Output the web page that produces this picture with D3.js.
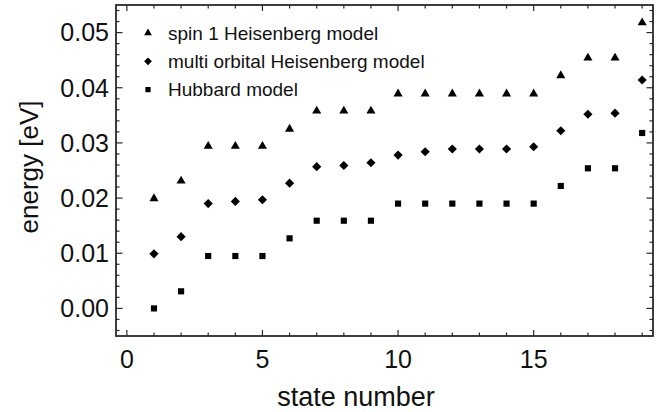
<!DOCTYPE html>
<html>
<head>
<meta charset="utf-8">
<script src="https://cdn.jsdelivr.net/npm/d3@7"></script>
<style>
  body { margin: 0; background: #fff; }
  text { font-family: "Liberation Sans", Arial, sans-serif; fill: #111; }
</style>
</head>
<body>
<div id="chart"></div>
<script>
const width = 671;
const height = 412;

// state numbers 1..19
const states = [1, 2, 3, 4, 5, 6, 7, 8, 9, 10, 11, 12, 13, 14, 15, 16, 17, 18, 19];

const spin1 = [0.0199, 0.0231, 0.0294, 0.0294, 0.0294, 0.0325, 0.0358, 0.0358, 0.0358,
  0.0389, 0.0389, 0.0389, 0.0389, 0.0389, 0.0389, 0.0422, 0.0454, 0.0454, 0.0518];
const multiOrbital = [0.0099, 0.0130, 0.0190, 0.0194, 0.0197, 0.0227, 0.0257, 0.0259, 0.0264,
  0.0278, 0.0284, 0.0289, 0.0289, 0.0289, 0.0293, 0.0322, 0.0352, 0.0354, 0.0414];
const hubbard = [0.0000, 0.0031, 0.0095, 0.0095, 0.0095, 0.0127, 0.0159, 0.0159, 0.0159,
  0.0190, 0.0190, 0.0190, 0.0190, 0.0190, 0.0190, 0.0222, 0.0254, 0.0254, 0.0318];

const seriesNames = ["spin 1 Heisenberg model", "multi orbital Heisenberg model", "Hubbard model"];
const xTicks = [0, 5, 10, 15];
const yTicks = [0.00, 0.01, 0.02, 0.03, 0.04, 0.05];

const plotLeft = 116, plotRight = 653, plotTop = 5, plotBottom = 336;

const svg = d3.select("#chart")
  .append("svg")
  .attr("width", width)
  .attr("height", height);

const x = d3.scaleLinear().domain([-0.4, 19.4]).range([plotLeft, plotRight]);
const y = d3.scaleLinear().domain([-0.005, 0.055]).range([plotBottom, plotTop]);

// marker shapes
const triangle = d3.symbol().type(d3.symbolTriangle).size(36);
const square = d3.symbol().type(d3.symbolSquare).size(38);
const diamond = d3.symbol().type(d3.symbolSquare).size(42);

const series = [
  { name: seriesNames[0], values: spin1, path: triangle(), rot: 0 },
  { name: seriesNames[1], values: multiOrbital, path: diamond(), rot: 45 },
  { name: seriesNames[2], values: hubbard, path: square(), rot: 0 }
];

// frame ticks (all pointing inward)
const frameColor = "#2a2a2a";
const minorX = d3.range(0, 20, 1);
const minorY = d3.range(-0.004, 0.0545, 0.002);
const ticks = svg.append("g").attr("stroke", frameColor).attr("stroke-width", 1.2);

minorX.forEach(v => {
  const len = xTicks.includes(v) ? 6 : 3.5;
  ticks.append("line").attr("x1", x(v)).attr("x2", x(v)).attr("y1", plotBottom).attr("y2", plotBottom - len);
  ticks.append("line").attr("x1", x(v)).attr("x2", x(v)).attr("y1", plotTop).attr("y2", plotTop + len);
});
minorY.forEach(v => {
  const major = yTicks.some(t => Math.abs(t - v) < 1e-6);
  const len = major ? 6.5 : 3.5;
  ticks.append("line").attr("x1", plotLeft).attr("x2", plotLeft + len).attr("y1", y(v)).attr("y2", y(v));
  ticks.append("line").attr("x1", plotRight).attr("x2", plotRight - len).attr("y1", y(v)).attr("y2", y(v));
});

svg.append("rect")
  .attr("x", plotLeft).attr("y", plotTop)
  .attr("width", plotRight - plotLeft).attr("height", plotBottom - plotTop)
  .attr("fill", "none")
  .attr("stroke", frameColor)
  .attr("stroke-width", 1.8);

// tick labels
svg.append("g").selectAll("text")
  .data(xTicks)
  .enter()
  .append("text")
  .attr("x", d => x(d))
  .attr("y", 368)
  .attr("text-anchor", "middle")
  .attr("font-size", 25)
  .text(d => d);

svg.append("g").selectAll("text")
  .data(yTicks)
  .enter()
  .append("text")
  .attr("x", 109)
  .attr("y", d => y(d))
  .attr("dy", "0.35em")
  .attr("text-anchor", "end")
  .attr("font-size", 25)
  .text(d => d3.format(".2f")(d));

// axis titles
svg.append("text")
  .attr("x", 356)
  .attr("y", 406)
  .attr("text-anchor", "middle")
  .attr("font-size", 27)
  .text("state number");

svg.append("text")
  .attr("transform", "translate(38,167) rotate(-90)")
  .attr("text-anchor", "middle")
  .attr("font-size", 26)
  .text("energy [eV]");

// points
series.forEach(s => {
  svg.append("g").selectAll("path")
    .data(states)
    .enter()
    .append("path")
    .attr("d", s.path)
    .attr("fill", "#000")
    .attr("transform", (d, i) => `translate(${x(d)},${y(s.values[i])}) rotate(${s.rot})`);
});

// legend
const legend = svg.append("g");
series.forEach((s, i) => {
  const cy = 33 + i * 28.3;
  legend.append("path")
    .attr("d", s.path)
    .attr("fill", "#000")
    .attr("transform", `translate(148,${cy}) rotate(${s.rot}) scale(0.85)`);
  legend.append("text")
    .attr("x", 168)
    .attr("y", cy + 6.5)
    .attr("font-size", 19)
    .text(s.name);
});
</script>
</body>
</html>
